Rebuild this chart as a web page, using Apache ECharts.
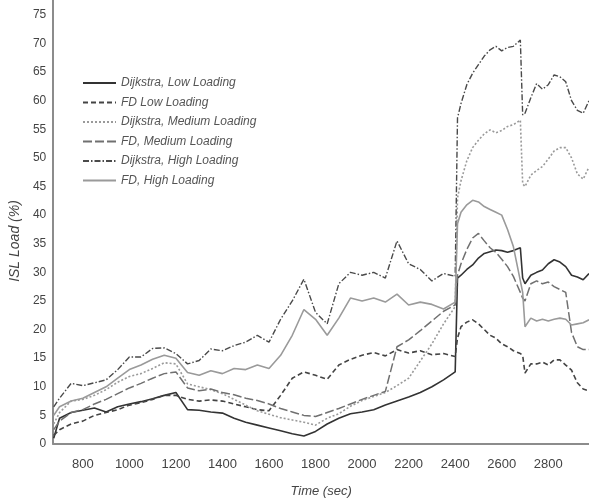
<!DOCTYPE html>
<html>
<head>
<meta charset="utf-8">
<script src="https://cdn.jsdelivr.net/npm/echarts@6/dist/echarts.min.js"></script>
<style>
  html, body { margin: 0; padding: 0; background: #fff; }
  #chart { width: 589px; height: 504px; }
</style>
</head>
<body>
<div id="chart"></div>
<script>
// Sample times (sec); denser after the 2400 s event
const times = [
  675, 700, 750, 800, 850, 900, 950, 1000, 1050, 1100, 1150, 1200,
  1250, 1300, 1350, 1400, 1450, 1500, 1550, 1600, 1650, 1700, 1750, 1800,
  1850, 1900, 1950, 2000, 2050, 2100, 2150, 2200, 2250, 2300, 2350, 2400,
  2410, 2425, 2450, 2475, 2500, 2525, 2550, 2575, 2600, 2625, 2650, 2680,
  2690, 2700, 2725, 2750, 2775, 2800, 2825, 2850, 2875, 2900, 2925, 2950, 2975
];

// ISL load (%) per routing scheme and loading level
const dijkstraLow = [
  1.0, 4.5, 5.5, 5.9, 6.3, 5.6, 6.5, 7.0, 7.4, 7.9, 8.5, 9.0,
  6.0, 5.9, 5.6, 5.4, 4.5, 3.8, 3.3, 2.8, 2.3, 1.8, 1.4, 2.2,
  3.5, 4.5, 5.3, 5.6, 6.0, 6.8, 7.5, 8.2, 9.0, 10.0, 11.2, 12.6,
  29.0, 29.5, 30.5, 31.3, 32.5, 33.3, 33.6, 33.9, 33.8, 33.5, 33.8, 34.3,
  29.0, 28.0, 29.5, 30.0, 30.4, 31.5, 32.2, 31.8, 31.0, 29.5, 29.2, 28.7, 29.8
];
const fdLow = [
  1.5, 2.5, 3.5, 4.0, 5.0, 5.5, 6.0, 6.8, 7.2, 7.8, 8.5, 8.5,
  7.8, 7.5, 7.7, 7.5, 7.0, 6.5, 6.0, 5.8, 8.5, 11.5, 12.6, 12.0,
  11.3, 13.8, 14.8, 15.5, 16.0, 15.4, 16.5, 15.9, 16.3, 15.6, 15.8, 15.3,
  18.5, 20.5, 21.3, 21.7, 21.0, 20.0, 19.0, 18.5, 17.5, 17.0, 16.3, 15.8,
  15.5, 12.4, 14.0, 14.0, 14.3, 13.8, 14.7, 14.7, 13.8, 12.9, 10.7, 9.6, 9.3
];
const dijkstraMedium = [
  3.5, 5.5, 7.5, 7.8, 8.5, 9.5, 10.8, 11.8, 12.3, 13.2, 14.2, 14.0,
  10.5, 10.0, 9.5, 8.8, 7.8, 6.8, 5.8, 5.2, 4.6, 4.2, 3.8, 3.3,
  4.5, 5.3, 6.6, 7.6, 8.3, 9.0, 10.2, 11.5, 14.5, 17.5, 21.0, 24.0,
  43.0, 46.0, 49.5, 51.8, 53.1, 54.2, 54.9, 54.4, 54.8, 55.5, 55.8, 56.6,
  45.5, 45.0, 47.0, 47.8, 48.5, 49.8, 51.2, 51.8, 51.8, 50.0, 47.2, 46.3, 48.4
];
const fdMedium = [
  2.5, 4.0, 5.5, 6.0, 7.0, 7.8, 8.8, 9.8, 10.6, 11.5, 12.3, 12.6,
  9.8, 9.3, 9.6, 9.0, 8.6, 8.0, 7.6, 7.0, 6.2, 5.6, 5.0, 4.8,
  5.5, 6.2, 7.0, 7.8, 8.5, 9.2, 17.0, 18.2, 19.8, 21.5, 23.2, 24.3,
  29.5, 31.5, 34.0, 36.0, 36.8, 35.5, 34.3, 33.5, 32.3, 31.0, 29.3, 26.5,
  25.5, 25.0, 28.0, 28.5, 28.0, 28.3, 27.5, 27.0, 26.5, 19.5, 17.0, 16.5, 16.5
];
const dijkstraHigh = [
  6.5, 8.0, 10.6, 10.2, 10.7, 11.2, 13.0, 15.2, 15.2, 16.7, 16.8, 15.8,
  14.0, 14.6, 16.6, 16.3, 17.2, 17.8, 19.0, 17.8, 21.8, 25.0, 28.8, 23.0,
  21.0, 28.0, 30.0, 29.5, 30.0, 29.0, 35.5, 31.5, 30.5, 28.5, 29.8, 29.3,
  57.0, 59.5, 62.8, 64.8, 66.3, 67.8, 68.9, 69.5, 68.7, 69.3, 69.5, 70.6,
  57.5, 57.8, 60.5, 63.0, 62.0, 62.8, 64.5, 64.2, 63.3, 60.0, 58.3, 57.8, 60.0
];
const fdHigh = [
  5.0, 6.5, 7.5, 8.0, 9.0, 10.0, 11.5, 13.0, 13.8, 14.8, 15.5, 15.0,
  12.5, 12.0, 12.8, 12.3, 13.2, 13.0, 13.8, 13.2, 15.5, 19.0, 23.5, 21.8,
  19.0, 22.0, 25.5, 25.0, 25.5, 24.8, 26.2, 24.3, 24.8, 24.4, 23.6, 24.8,
  38.5, 40.5, 41.8, 42.6, 42.3, 41.5, 41.0, 40.5, 40.0, 37.5, 34.5, 28.5,
  26.5, 20.5, 22.0, 21.5, 21.8, 21.5, 21.8, 22.0, 21.8, 20.8, 21.0, 21.2, 21.7
];

const seriesNames = [
  'Dijkstra, Low Loading',
  'FD Low Loading',
  'Dijkstra, Medium Loading',
  'FD, Medium Loading',
  'Dijkstra, High Loading',
  'FD, High Loading'
];
const seriesValues = [dijkstraLow, fdLow, dijkstraMedium, fdMedium, dijkstraHigh, fdHigh];

const xTickValues = [800, 1000, 1200, 1400, 1600, 1800, 2000, 2200, 2400, 2600, 2800];
const yTickValues = [0, 5, 10, 15, 20, 25, 30, 35, 40, 45, 50, 55, 60, 65, 70, 75];

// Grayscale line styles, one per series
const lineStyles = [
  { color: '#333333', width: 1.6, type: 'solid' },
  { color: '#444444', width: 1.6, type: [5, 3] },
  { color: '#9a9a9a', width: 1.6, type: [2, 2] },
  { color: '#707070', width: 1.5, type: [9, 3] },
  { color: '#4a4a4a', width: 1.4, type: [6, 2, 1.5, 2] },
  { color: '#9a9a9a', width: 1.6, type: 'solid' }
];

const labelFont = '"Liberation Sans", Arial, sans-serif';

const chart = echarts.init(document.getElementById('chart'), null, { renderer: 'canvas' });

chart.setOption({
  animation: false,
  backgroundColor: '#ffffff',
  grid: { left: 53, right: 0, top: 0, bottom: 60 },
  legend: {
    orient: 'vertical',
    left: 82,
    top: 76,
    padding: 0,
    itemWidth: 33,
    itemHeight: 14,
    itemGap: 5.5,
    itemStyle: { opacity: 0 },
    data: seriesNames,
    textStyle: {
      fontFamily: labelFont,
      fontStyle: 'italic',
      fontSize: 12,
      lineHeight: 14,
      color: '#555555'
    }
  },
  xAxis: {
    type: 'value',
    min: 673,
    max: 2975,
    name: 'Time (sec)',
    nameLocation: 'middle',
    nameGap: 41,
    nameTextStyle: { fontFamily: labelFont, fontStyle: 'italic', fontSize: 13, color: '#444444' },
    axisLine: { show: true, lineStyle: { color: '#8c8c8c', width: 2 } },
    axisTick: { show: false },
    splitLine: { show: false },
    axisLabel: {
      customValues: xTickValues,
      formatter: (v) => (xTickValues.indexOf(v) >= 0 ? String(v) : ''),
      margin: 14,
      fontFamily: labelFont,
      fontSize: 13,
      color: '#444444'
    }
  },
  yAxis: {
    type: 'value',
    min: 0,
    max: 77.6,
    name: 'ISL Load (%)',
    nameLocation: 'middle',
    nameGap: 27,
    nameTextStyle: {
      fontFamily: labelFont,
      fontStyle: 'italic',
      fontSize: 14,
      color: '#444444',
      padding: [0, 38, 0, 0]
    },
    axisLine: { show: true, lineStyle: { color: '#8c8c8c', width: 2 } },
    axisTick: { show: false },
    splitLine: { show: false },
    axisLabel: {
      customValues: yTickValues,
      formatter: (v) => (yTickValues.indexOf(v) >= 0 ? String(v) : ''),
      margin: 7,
      fontFamily: labelFont,
      fontSize: 12,
      color: '#444444'
    }
  },
  series: seriesNames.map((name, k) => ({
    name: name,
    type: 'line',
    symbol: 'none',
    smooth: false,
    data: times.map((t, i) => [t, seriesValues[k][i]]),
    lineStyle: lineStyles[k],
    itemStyle: { color: lineStyles[k].color }
  }))
});
</script>
</body>
</html>
